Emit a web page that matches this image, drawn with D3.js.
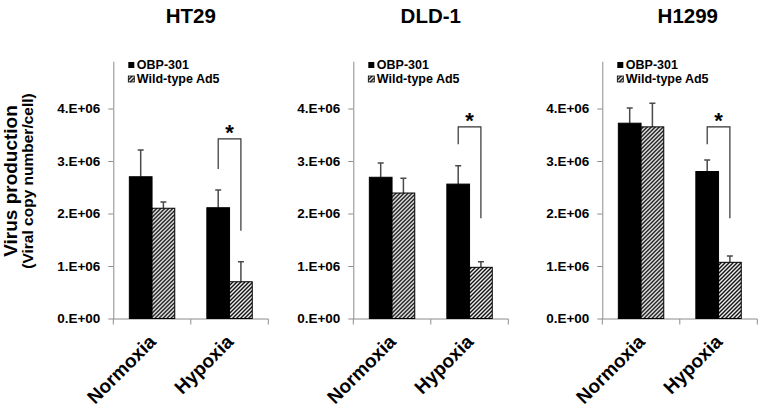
<!DOCTYPE html>
<html>
<head>
<meta charset="utf-8">
<script src="https://cdn.jsdelivr.net/npm/d3@7"></script>
<style>
html,body{margin:0;padding:0;background:#fff;}
svg{display:block;font-family:"Liberation Sans",Arial,sans-serif;}
</style>
</head>
<body>
<svg id="chart" width="762" height="410"></svg>
<script>
// ---- data ----
const panelTitles = ["HT29", "DLD-1", "H1299"];
const categories = ["Normoxia", "Hypoxia"];
const seriesNames = ["OBP-301", "Wild-type Ad5"];
const obpMeans = [[2.70e6, 2.11e6], [2.69e6, 2.56e6], [3.72e6, 2.80e6]];
const obpErrors = [[0.51e6, 0.34e6], [0.27e6, 0.35e6], [0.29e6, 0.22e6]];
const wildMeans = [[2.10e6, 0.70e6], [2.39e6, 0.975e6], [3.65e6, 1.07e6]];
const wildErrors = [[0.12e6, 0.38e6], [0.28e6, 0.105e6], [0.45e6, 0.12e6]];
const yTickValues = [0, 1e6, 2e6, 3e6, 4e6];
const yTickLabels = ["0.E+00", "1.E+06", "2.E+06", "3.E+06", "4.E+06"];
const bracketTop = [3.42e6, 3.65e6, 3.65e6];
const bracketLeftBottom = [2.85e6, 3.32e6, 3.32e6];
const bracketRightBottom = [1.67e6, 1.91e6, 1.91e6];
const yTitle = "Virus production";
const ySubTitle = "(Viral copy number/cell)";

// ---- layout ----
const panelLeft = [113.3, 353.3, 602.3];
const panelWidth = 155;
const titleDx = [0, 0, 8];
const yMax = 4.9e6;
const baseY = 318.5, topY = baseY - yMax / 1e6 * 52.5;
const axisColor = "#8c8c8c";

const svg = d3.select("#chart");
const defs = svg.append("defs");
const pat = defs.append("pattern").attr("id", "hatch")
  .attr("patternUnits", "userSpaceOnUse").attr("width", 4).attr("height", 4);
pat.append("rect").attr("width", 4).attr("height", 4).attr("fill", "#fff");
pat.append("path").attr("d", "M-1,1 l2,-2 M0,4 l4,-4 M3,5 l2,-2")
  .attr("stroke", "#000").attr("stroke-width", 1.4);

const y = d3.scaleLinear().domain([0, yMax]).range([baseY, topY]);

// y-axis titles
svg.append("text")
  .attr("transform", `translate(17,181) rotate(-90)`)
  .attr("text-anchor", "middle").attr("font-weight", "bold")
  .attr("font-size", 19).attr("fill", "#000").text(yTitle);
svg.append("text")
  .attr("transform", `translate(33,181) rotate(-90)`)
  .attr("text-anchor", "middle").attr("font-weight", "bold")
  .attr("font-size", 15.5).attr("fill", "#000").text(ySubTitle);

panelTitles.forEach((title, p) => {
  const x0 = panelLeft[p];
  const x = d3.scaleBand().domain(categories).range([x0, x0 + panelWidth])
    .paddingInner(0.414).paddingOuter(0.207);
  const xs = d3.scaleBand().domain(seriesNames).range([0, x.bandwidth()]);
  const g = svg.append("g");

  // title
  g.append("text").attr("x", x0 + panelWidth / 2 + titleDx[p]).attr("y", 23)
    .attr("text-anchor", "middle").attr("font-weight", "bold")
    .attr("font-size", 20.5).attr("fill", "#000").text(title);

  // y axis
  const yAxis = d3.axisLeft(y).tickValues(yTickValues)
    .tickFormat((d, i) => yTickLabels[i]).tickSize(5).tickSizeOuter(0).tickPadding(8);
  const ya = g.append("g").attr("transform", `translate(${x0},0)`).call(yAxis);
  ya.select(".domain").attr("stroke", axisColor);
  ya.selectAll(".tick line").attr("stroke", axisColor);
  ya.selectAll(".tick text").attr("font-size", 13.5).attr("font-weight", "bold")
    .attr("fill", "#000").attr("font-family", "'Liberation Sans',Arial,sans-serif");

  // x axis line with ticks at category boundaries
  g.append("line").attr("x1", x0).attr("x2", x0 + panelWidth)
    .attr("y1", baseY + 0.5).attr("y2", baseY + 0.5).attr("stroke", axisColor);
  const bounds = [x0, x0 + panelWidth / 2, x0 + panelWidth];
  g.selectAll(".xt").data(bounds).enter().append("line")
    .attr("x1", d => d).attr("x2", d => d)
    .attr("y1", baseY + 0.5).attr("y2", baseY + 6).attr("stroke", axisColor);

  // bars
  const rows = categories.map((c, i) => ({
    cat: c,
    vals: [
      { s: seriesNames[0], v: obpMeans[p][i], e: obpErrors[p][i] },
      { s: seriesNames[1], v: wildMeans[p][i], e: wildErrors[p][i] }
    ]
  }));
  const cg = g.selectAll(".cat").data(rows).enter().append("g")
    .attr("transform", d => `translate(${x(d.cat)},0)`);
  // error bars (upper)
  cg.selectAll(".err").data(d => d.vals).enter().append("path")
    .attr("d", d => {
      const cx = xs(d.s) + xs.bandwidth() / 2;
      return `M${cx},${y(d.v)}V${y(d.v + d.e)}M${cx - 3},${y(d.v + d.e)}H${cx + 3}`;
    })
    .attr("stroke", "#4a4a4a").attr("stroke-width", 1.5).attr("fill", "none");
  cg.selectAll(".bar").data(d => d.vals).enter().append("rect")
    .attr("x", d => xs(d.s)).attr("width", xs.bandwidth())
    .attr("y", d => y(d.v)).attr("height", d => y(0) - y(d.v))
    .attr("fill", (d, i) => i === 0 ? "#000" : "url(#hatch)")
    .attr("stroke", "#000").attr("stroke-width", 1);

  // significance bracket over Hypoxia
  const hx = x("Hypoxia");
  const lx = hx + xs(seriesNames[0]) + xs.bandwidth() / 2;
  const rx = hx + xs(seriesNames[1]) + xs.bandwidth() / 2;
  g.append("path")
    .attr("d", `M${lx},${y(bracketLeftBottom[p])}V${y(bracketTop[p])}H${rx}V${y(bracketRightBottom[p])}`)
    .attr("stroke", "#333").attr("stroke-width", 1.2).attr("fill", "none");
  g.append("text").attr("x", (lx + rx) / 2).attr("y", y(bracketTop[p]) + 1)
    .attr("text-anchor", "middle").attr("font-weight", "bold")
    .attr("font-size", 22).attr("fill", "#000").text("*");

  // x labels
  g.selectAll(".xl").data(categories).enter().append("text")
    .attr("transform", d => `translate(${x(d) + x.bandwidth() / 2 + 5},343) rotate(-45)`)
    .attr("text-anchor", "end").attr("font-weight", "bold")
    .attr("font-size", 19).attr("fill", "#000").text(d => d);

  // legend
  const lg = g.append("g").attr("transform", `translate(${x0 + 15},0)`);
  seriesNames.forEach((s, i) => {
    lg.append("rect").attr("x", 0).attr("y", 62 + i * 14).attr("width", 6).attr("height", 6)
      .attr("fill", i === 0 ? "#000" : "url(#hatch)").attr("stroke", "#000").attr("stroke-width", i === 0 ? 0 : 0.8);
    lg.append("text").attr("x", 8.5).attr("y", 69 + i * 14.3)
      .attr("font-weight", "bold").attr("font-size", 12.5).attr("fill", "#000").text(s);
  });
});
</script>
</body>
</html>
